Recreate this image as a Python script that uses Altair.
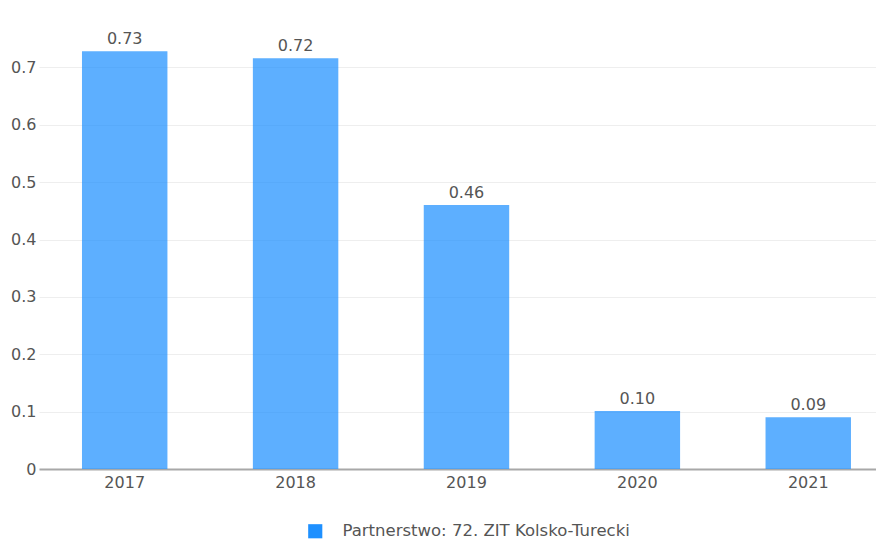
import altair as alt
import pandas as pd

years = ["2017", "2018", "2019", "2020", "2021"]
values = [0.728, 0.716, 0.460, 0.101, 0.090]
series_name = "Partnerstwo: 72. ZIT Kolsko-Turecki"
y_ticks = [0, 0.1, 0.2, 0.3, 0.4, 0.5, 0.6, 0.7]

df = pd.DataFrame({"rok": years, "wartosc": values, "seria": [series_name] * len(years)})

FONT = "DejaVu Sans"
TXT = "#555555"
FS = 16

x_enc = alt.X(
    "rok:N",
    scale=alt.Scale(paddingInner=0.5, paddingOuter=0.199, align=0.632),
    axis=alt.Axis(
        title=None, labelAngle=0, domainColor="#a8a8a8", domainWidth=2,
        ticks=False, labelPadding=5, labelFontSize=FS, labelColor=TXT,
        labelFont=FONT, grid=False,
    ),
)
y_enc = alt.Y(
    "wartosc:Q",
    scale=alt.Scale(domain=[0, 0.8], nice=False),
    axis=alt.Axis(
        title=None, values=y_ticks, format="~g", domain=False, ticks=False,
        gridColor="#eeeeee", gridWidth=1, labelPadding=3, minExtent=31, maxExtent=31,
        labelFontSize=FS, labelColor=TXT, labelFont=FONT,
    ),
)

bars = alt.Chart(df).mark_bar(opacity=0.72).encode(
    x=x_enc,
    y=y_enc,
    color=alt.Color(
        "seria:N",
        scale=alt.Scale(range=["#1E90FF"]),
        legend=alt.Legend(
            title=None, orient="none", legendX=268, legendY=513, padding=0,
            symbolType="square", symbolSize=200, symbolOpacity=1,
            symbolStrokeWidth=0, labelOffset=19, labelLimit=0,
            labelFontSize=16.5, labelColor=TXT, labelFont=FONT,
        ),
    ),
)

labels = alt.Chart(df).mark_text(
    baseline="alphabetic", dy=-7.5, fontSize=FS, color=TXT, font=FONT
).encode(
    x=alt.X("rok:N"),
    y=alt.Y("wartosc:Q"),
    text=alt.Text("wartosc:Q", format=".2f"),
)

chart = (
    alt.layer(bars, labels)
    .properties(width=837, height=459, padding={"left": 0, "top": 2, "right": 0, "bottom": 0})
    .configure_view(stroke=None)
)

chart.save("out.html", embed_options={"renderer": "svg", "actions": False})
